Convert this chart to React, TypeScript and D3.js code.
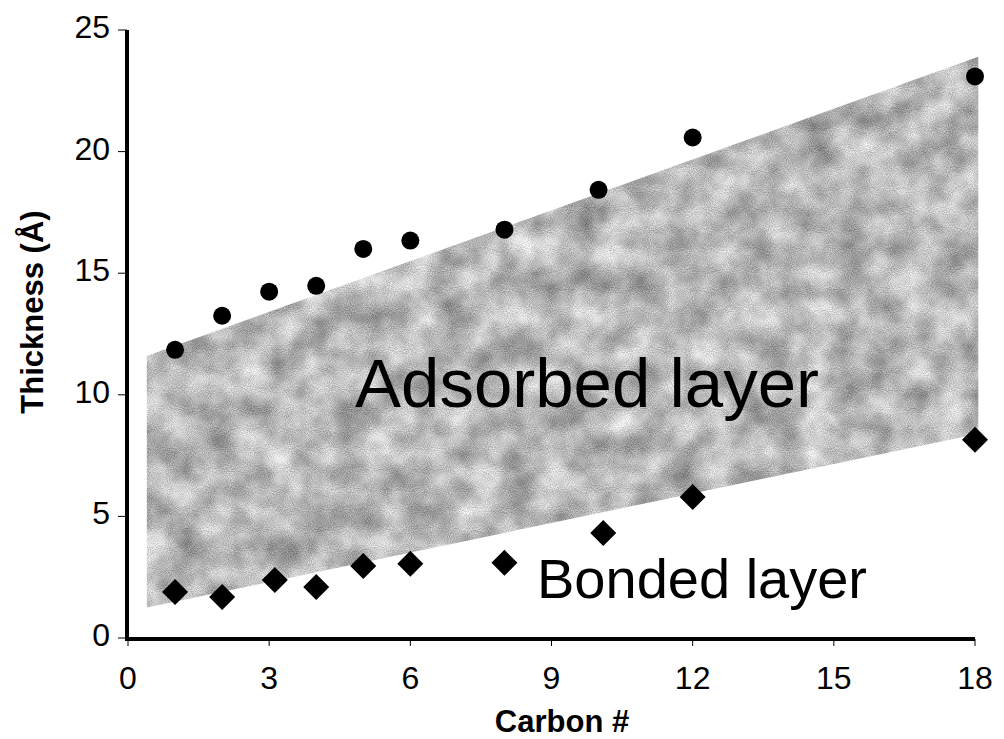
import React from "react";
import * as d3 from "d3";

// Layer thickness versus alkyl chain length
const carbons = [1, 2, 3, 4, 5, 6, 8, 10, 12, 18];
const adsorbedThickness = [11.85, 13.25, 14.24, 14.48, 16.0, 16.34, 16.79, 18.43, 20.58, 23.09];
const bondedCarbons = [1, 2, 3.12, 4, 5, 6, 8, 10.1, 12, 18];
const bondedThickness = [1.89, 1.69, 2.39, 2.1, 2.96, 3.05, 3.09, 4.32, 5.8, 8.15];

// Shaded band marking the adsorbed layer region: [carbon, upper, lower]
const bandStart = [0.4, 11.6, 1.25];
const bandEnd = [18.07, 23.9, 8.4];

const xTicks = [0, 3, 6, 9, 12, 15, 18];
const yTicks = [0, 5, 10, 15, 20, 25];

const W = 1004;
const H = 739;
const FONT = "'Liberation Sans', Arial, Helvetica, sans-serif";

export default function App() {
  const x = d3.scaleLinear().domain([0, 18]).range([128, 975]);
  const y = d3.scaleLinear().domain([0, 25]).range([638, 30]);

  const bandPts: [number, number][] = [
    [x(bandStart[0]), y(bandStart[1])],
    [x(bandEnd[0]), y(bandEnd[1])],
    [x(bandEnd[0]), y(bandEnd[2])],
    [x(bandStart[0]), y(bandStart[2])],
  ];
  const bandPath = d3.line()(bandPts.concat([bandPts[0]])) + "Z";

  const diamond = (cx: number, cy: number, r: number) =>
    `M${cx},${cy - r}L${cx + r},${cy}L${cx},${cy + r}L${cx - r},${cy}Z`;

  const toGray = "1 0 0 0 0  1 0 0 0 0  1 0 0 0 0  0 0 0 0 1";

  return (
    <svg
      width={W}
      height={H}
      viewBox={`0 0 ${W} ${H}`}
      style={{ position: "absolute", left: 0, top: 0, display: "block", background: "#fff" }}
    >
      <defs>
        <filter
          id="mottle"
          x="0"
          y="0"
          width="100%"
          height="100%"
          colorInterpolationFilters="sRGB"
        >
          <feTurbulence type="fractalNoise" baseFrequency="0.95" numOctaves={1} seed={7} result="fineRaw" />
          <feColorMatrix in="fineRaw" type="matrix" values={toGray} result="fine" />
          <feTurbulence type="fractalNoise" baseFrequency="0.03" numOctaves={3} seed={11} result="coarseRaw" />
          <feColorMatrix in="coarseRaw" type="matrix" values={toGray} result="coarse" />
          <feComposite in="fine" in2="coarse" operator="arithmetic" k1={0} k2={0.45} k3={0.55} k4={0.22} result="gray" />
          <feComposite in="gray" in2="SourceGraphic" operator="in" />
        </filter>
      </defs>

      {/* shaded adsorbed-layer band */}
      <path d={bandPath} fill="#b0b0b0" filter="url(#mottle)" />

      <text x={355} y={407} fontFamily={FONT} fontSize={69} fill="#000">
        Adsorbed layer
      </text>
      <text x={537} y={598} fontFamily={FONT} fontSize={56} fill="#000">
        Bonded layer
      </text>

      {/* axes */}
      <line x1={127} x2={127} y1={y(25)} y2={641} stroke="#000" strokeWidth={4} />
      <line x1={125} x2={x(18)} y1={639} y2={639} stroke="#000" strokeWidth={4} />

      {yTicks.map((t) => (
        <g key={`y${t}`}>
          <line x1={118} x2={127} y1={y(t)} y2={y(t)} stroke="#000" strokeWidth={1} />
          <text
            x={110}
            y={y(t) + 8}
            textAnchor="end"
            fontFamily={FONT}
            fontSize={32}
            fill="#000"
          >
            {t}
          </text>
        </g>
      ))}

      {xTicks.map((t) => (
        <g key={`x${t}`}>
          <line x1={x(t)} x2={x(t)} y1={639} y2={646} stroke="#000" strokeWidth={1} />
          <text
            x={x(t)}
            y={689}
            textAnchor="middle"
            fontFamily={FONT}
            fontSize={32}
            fill="#000"
          >
            {t}
          </text>
        </g>
      ))}

      <text
        transform={`translate(43, 312) rotate(-90)`}
        textAnchor="middle"
        fontFamily={FONT}
        fontWeight="bold"
        fontSize={31}
        fill="#000"
      >
        Thickness (Å)
      </text>
      <text
        x={562}
        y={732}
        textAnchor="middle"
        fontFamily={FONT}
        fontWeight="bold"
        fontSize={31}
        fill="#000"
      >
        Carbon #
      </text>

      {/* adsorbed layer thickness */}
      {carbons.map((c, i) => (
        <circle key={`a${i}`} cx={x(c)} cy={y(adsorbedThickness[i])} r={9} fill="#000" />
      ))}

      {/* bonded layer thickness */}
      {bondedCarbons.map((c, i) => (
        <path key={`b${i}`} d={diamond(x(c), y(bondedThickness[i]), 13)} fill="#000" />
      ))}
    </svg>
  );
}
